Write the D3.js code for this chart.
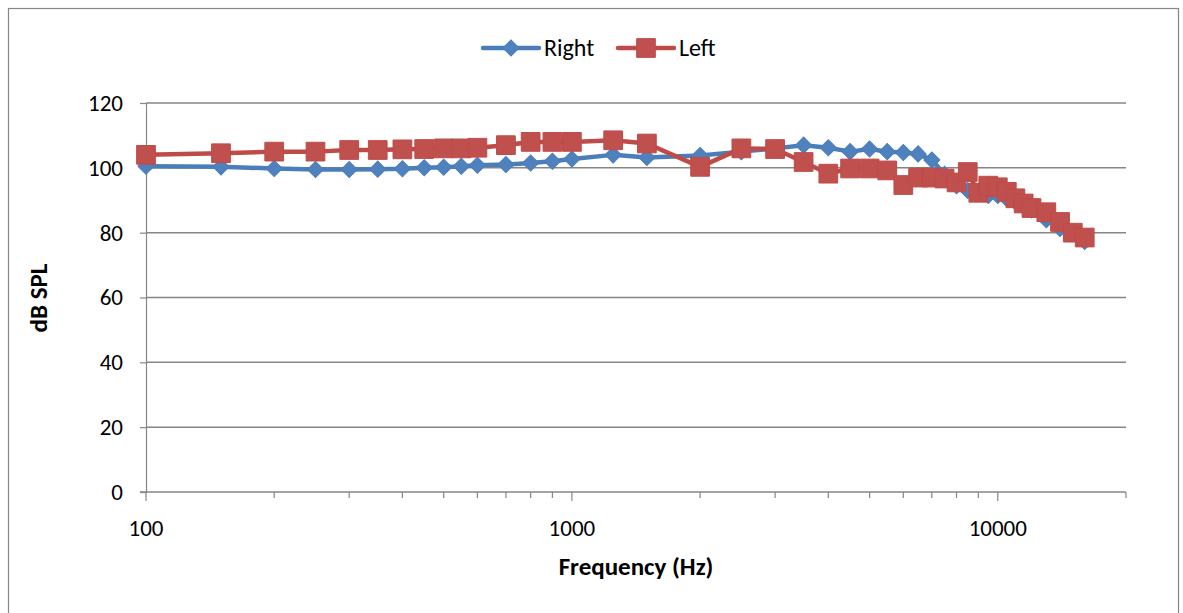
<!DOCTYPE html>
<html>
<head>
<meta charset="utf-8">
<script src="https://cdn.jsdelivr.net/npm/d3@7"></script>
<style>
  body { margin: 0; background: #fff; }
  text { font-family: Carlito, Lato, "Liberation Sans", sans-serif; fill: #000; }
</style>
</head>
<body>
<div id="chart"></div>
<script>
// frequencies (Hz) shared by both ears
var freqs = [100, 150, 200, 250, 300, 350, 400, 450, 500, 550, 600, 700, 800, 900, 1000,
  1250, 1500, 2000, 2500, 3000, 3500, 4000, 4500, 5000, 5500, 6000, 6500, 7000, 7500,
  8000, 8500, 9000, 9500, 10000, 10500, 11000, 11500, 12000, 13000, 14000, 15000, 16000];

// dB SPL
var rightDb = [100.5, 100.3, 99.8, 99.5, 99.5, 99.6, 99.7, 100, 100.2, 100.5, 100.8, 101, 101.5, 102, 102.7,
  104, 103.2, 103.8, 105, 106, 107, 106.2, 105, 105.8, 105, 104.7, 104.3, 102.4, 98,
  94.5, 93, 92, 91.5, 91.5, 90.5, 89.5, 88, 87, 84, 81.3, 80, 77.3];
var leftDb = [104, 104.5, 105, 105, 105.5, 105.5, 105.7, 105.8, 106, 106, 106.2, 107, 108, 108, 108,
  108.5, 107.5, 100.3, 106, 105.8, 101.8, 98.2, 99.8, 99.8, 99.2, 94.7, 97, 97, 96.7,
  95.5, 98.7, 92.3, 94.5, 94, 92.6, 90.6, 89, 87.6, 86.3, 83.3, 80, 78.5];

var yTicks = [0, 20, 40, 60, 80, 100, 120];
var xMajor = [100, 1000, 10000];
var xMinor = [200, 300, 400, 500, 600, 700, 800, 900, 2000, 3000, 4000, 5000, 6000, 7000, 8000, 9000, 20000];

var W = 1183, H = 613;
var svg = d3.select('#chart').append('svg')
  .attr('width', W)
  .attr('height', H);

// outer chart border
svg.append('rect')
  .attr('x', 8.5).attr('y', 8.5)
  .attr('width', 1170).attr('height', 640)
  .style('fill', 'none')
  .style('stroke', '#868686')
  .style('stroke-width', 1.2);

var x = d3.scaleLog().domain([100, 20000]).range([146, 1126]);
var y = d3.scaleLinear().domain([0, 120]).range([492, 103]);

// horizontal gridlines
svg.selectAll('.grid')
  .data(yTicks.filter(function(d){ return d > 0; }))
  .enter().append('line')
  .attr('class', 'grid')
  .attr('x1', x(100)).attr('x2', x(20000))
  .attr('y1', function(d){ return y(d); })
  .attr('y2', function(d){ return y(d); })
  .style('stroke', '#868686')
  .style('stroke-width', 1.5);

// y axis
var yAxis = d3.axisLeft(y).tickValues(yTicks).tickSize(6).tickPadding(17);
var gy = svg.append('g').attr('transform', 'translate(' + x(100) + ',0)').call(yAxis);
gy.select('.domain').style('stroke', '#868686').style('stroke-width', 1.2);
gy.selectAll('.tick line').style('stroke', '#868686').style('stroke-width', 1.2);
gy.selectAll('.tick text').attr('font-size', 23).style('font-family', 'Carlito, Lato, sans-serif');

// x axis: major and minor ticks
var gx = svg.append('g').attr('transform', 'translate(0,' + y(0) + ')');
gx.append('line')
  .attr('x1', x(100) - 6).attr('x2', x(20000))
  .style('stroke', '#868686').style('stroke-width', 1.5);
gx.selectAll('.minor').data(xMinor).enter().append('line')
  .attr('x1', function(d){ return x(d); }).attr('x2', function(d){ return x(d); })
  .attr('y1', 0).attr('y2', 6)
  .style('stroke', '#868686').style('stroke-width', 1.2);
gx.selectAll('.major').data(xMajor).enter().append('line')
  .attr('x1', function(d){ return x(d); }).attr('x2', function(d){ return x(d); })
  .attr('y1', 0).attr('y2', 9)
  .style('stroke', '#868686').style('stroke-width', 1.2);
gx.selectAll('.xlab').data(xMajor).enter().append('text')
  .attr('x', function(d){ return x(d); })
  .attr('y', 44)
  .attr('text-anchor', 'middle')
  .attr('font-size', 23)
  .text(function(d){ return d; });

// axis titles
svg.append('text')
  .attr('x', 636).attr('y', 575)
  .attr('text-anchor', 'middle')
  .attr('font-size', 25).attr('font-weight', 'bold')
  .text('Frequency (Hz)');
svg.append('text')
  .attr('transform', 'translate(47,298) rotate(-90)')
  .attr('text-anchor', 'middle')
  .attr('font-size', 25).attr('font-weight', 'bold')
  .text('dB SPL');

var series = [
  { name: 'Right', values: rightDb, color: '#4A7EBB', fill: '#4F81BD', shape: d3.symbolSquare, size: 130, rot: 45 },
  { name: 'Left', values: leftDb, color: '#BE4B48', fill: '#C0504D', shape: d3.symbolSquare, size: 350, rot: 0 }
];

var line = d3.line()
  .x(function(d){ return x(d[0]); })
  .y(function(d){ return y(d[1]); });

series.forEach(function(s){
  var pts = freqs.map(function(f, i){ return [f, s.values[i]]; });
  svg.append('path')
    .datum(pts)
    .attr('d', line)
    .style('fill', 'none')
    .style('stroke', s.color)
    .style('stroke-width', 4.5)
    .style('stroke-linejoin', 'round');
  svg.selectAll('.m' + s.name).data(pts).enter().append('path')
    .attr('class', 'm' + s.name)
    .attr('transform', function(d){ return 'translate(' + x(d[0]) + ',' + y(d[1]) + ') rotate(' + s.rot + ')'; })
    .attr('d', d3.symbol().type(s.shape).size(s.size))
    .style('fill', s.fill)
    .style('stroke', s.color)
    .style('stroke-width', 1);
});

// legend
var legend = svg.append('g').attr('transform', 'translate(483,48)');
var lx = [0, 135];
var tx = [61, 61];
series.forEach(function(s, i){
  var g = legend.append('g').attr('transform', 'translate(' + lx[i] + ',0)');
  g.append('line')
    .attr('x1', 0).attr('x2', 56)
    .style('stroke', s.color).style('stroke-width', 4.5)
    .style('stroke-linecap', 'round');
  g.append('path')
    .attr('transform', 'translate(28,0) rotate(' + s.rot + ')')
    .attr('d', d3.symbol().type(s.shape).size(s.size))
    .style('fill', s.fill).style('stroke', s.color);
  g.append('text')
    .attr('x', tx[i]).attr('y', 8)
    .attr('font-size', 24)
    .text(s.name);
});
</script>
</body>
</html>
